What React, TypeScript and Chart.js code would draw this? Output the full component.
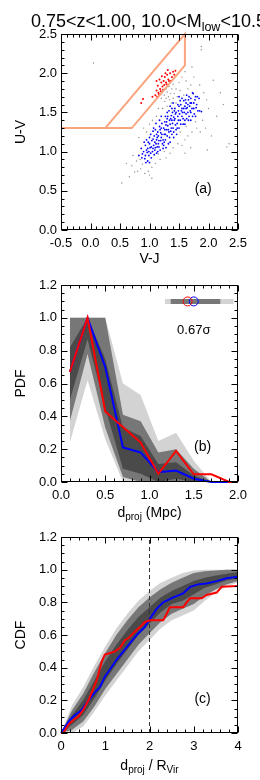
import React, { useEffect, useRef } from 'react';
import { Chart, registerables } from 'chart.js';
Chart.register(...registerables);

const FONT = '"Liberation Sans", Arial, Helvetica, sans-serif';

// ---------- Panel (a): UVJ diagram ----------
const bluePts: number[][] = [
  [0.88,0.97],[0.92,0.91],[0.95,1.02],[0.97,0.88],[0.99,0.95],[1.01,1.05],[0.93,1.08],[1.03,0.92],[0.9,1.0],[1.05,1.0],
  [0.96,0.99],[1.0,0.86],[0.86,1.04],[1.07,1.08],[0.98,1.12],[1.04,1.14],[0.91,1.12],[1.08,0.96],[0.94,0.86],[0.87,0.92],
  [1.1,1.05],[1.12,1.15],[1.15,1.1],[1.08,1.2],[1.18,1.02],[1.2,1.18],[1.14,1.25],[1.22,1.1],[1.25,1.22],[1.1,1.28],
  [1.17,1.32],[1.27,1.15],[1.19,1.24],[1.24,1.3],[1.13,1.18],[1.06,1.26],[1.28,1.05],[1.21,1.36],[1.16,1.06],[1.3,1.2],
  [1.26,1.38],[1.11,1.36],[1.23,1.04],[1.29,1.28],[1.02,1.22],[1.32,1.1],[1.19,1.14],[1.09,1.12],[1.14,1.0],[1.06,1.16],
  [1.33,1.25],[1.35,1.35],[1.38,1.22],[1.4,1.3],[1.36,1.42],[1.42,1.4],[1.31,1.45],[1.45,1.28],[1.44,1.48],[1.39,1.5],
  [1.47,1.36],[1.34,1.18],[1.41,1.18],[1.48,1.45],[1.37,1.3],[1.5,1.3],[1.29,1.38],[1.43,1.55],[1.33,1.52],[1.46,1.22],
  [1.52,1.4],[1.38,1.4],[1.27,1.45],[1.49,1.52],[1.35,1.58],[1.31,1.33],[1.44,1.34],[1.25,1.12],[1.36,1.26],[1.41,1.44],
  [1.55,1.45],[1.58,1.55],[1.6,1.4],[1.53,1.6],[1.62,1.62],[1.65,1.5],[1.57,1.35],[1.68,1.58],[1.7,1.68],[1.63,1.72],
  [1.72,1.55],[1.75,1.62],[1.55,1.68],[1.78,1.7],[1.8,1.6],[1.67,1.45],[1.6,1.58],[1.73,1.75],[1.82,1.52],[1.5,1.58],
  [1.58,1.65],[1.66,1.66],[1.76,1.48],[1.54,1.52],[1.62,1.48],[1.7,1.4],[1.84,1.68],[1.64,1.56],[1.56,1.5],[1.69,1.62],
  [1.85,1.52],[1.78,1.45],[1.4,1.62],[1.5,1.7],[1.2,1.45],[0.82,0.95],[1.0,1.18],[1.12,0.98],[1.88,1.51],[1.74,1.74],
  [0.93,0.95],[0.97,1.04],[1.02,0.98],[1.06,1.04],[1.0,1.1],[0.95,1.15],[1.09,1.02],[1.11,1.1],[1.15,1.2],[1.18,1.28],
  [1.21,1.22],[1.23,1.15],[1.26,1.28],[1.28,1.34],[1.3,1.42],[1.32,1.28],[1.34,1.4],[1.37,1.46],[1.39,1.36],[1.41,1.25],
  [1.43,1.42],[1.45,1.5],[1.47,1.3],[1.49,1.4],[1.51,1.48],[1.53,1.35],[1.55,1.55],[1.57,1.42],[1.59,1.5],[1.61,1.66],
  [1.63,1.42],[1.65,1.6],[1.67,1.7],[1.69,1.52],[1.71,1.62],[1.73,1.45],[1.75,1.55],[1.77,1.66],[1.79,1.56],[1.81,1.7],
  [1.12,1.22],[1.16,1.14],[1.24,1.08],[1.07,1.3],[1.03,1.06],[0.99,1.0],[1.13,1.06],[1.27,1.22],[1.35,1.12],[1.48,1.6],
  [1.52,1.65],[1.42,1.52],[1.38,1.55],[1.62,1.55],[1.7,1.5],[1.2,1.3],[1.17,1.4],[1.3,1.5],[1.6,1.35],[1.66,1.4],
];
const greyPts: number[][] = [
  [1.25,1.72],[1.28,1.8],[1.33,1.83],[1.38,1.8],[1.42,1.74],[1.4,1.68],[1.34,1.66],[1.28,1.68],[1.3,1.76],[1.36,1.74],
  [1.45,1.8],[1.22,1.78],[1.26,1.64],[1.4,1.86],[1.47,1.7],[1.32,1.7],[1.37,1.62],[1.2,1.68],
  [1.5,1.88],[1.55,1.95],[1.6,2.02],[1.62,1.9],[1.52,1.78],[1.7,1.85],[1.72,2.08],[1.88,2.3],[1.65,1.8],[1.75,1.95],
  [1.58,1.72],[1.85,1.85],[1.97,1.66],[2.08,1.91],[2.14,1.45],[1.92,1.75],[2.0,1.55],[1.9,1.4],[1.95,1.3],[2.05,1.2],
  [2.31,1.06],[1.86,1.25],[1.8,1.3],[1.72,1.25],[1.65,1.2],[1.6,1.15],[1.55,1.08],[1.48,1.1],[1.4,1.05],[1.35,0.98],
  [1.28,0.92],[1.18,0.9],[1.1,0.85],[1.04,0.8],[0.98,0.75],[0.92,0.72],[0.85,0.78],[0.8,0.75],[0.75,0.74],[0.7,0.82],
  [0.61,0.85],[0.53,0.6],[0.66,0.68],[1.04,0.66],[0.88,0.84],[0.78,0.88],[0.84,0.9],[1.12,1.45],[1.05,1.4],[1.0,1.35],
  [0.95,1.25],[1.15,1.55],[1.22,1.55],[1.3,1.58],[1.45,1.62],[0.05,2.13],[1.88,2.34],[2.2,1.75],[2.25,1.6],[1.98,1.02],
  [1.7,1.05],[0.9,1.3],[1.52,1.25],[1.62,1.32],[1.78,1.38],[1.25,1.0],[1.15,0.97],[0.72,0.95],[1.0,0.7],[2.35,1.1],
  [0.82,1.18],[1.6,0.98],
];
const redPts: number[][] = [
  [1.1,1.72],[1.12,1.78],[1.15,1.75],[1.14,1.84],[1.18,1.8],[1.2,1.88],[1.17,1.92],[1.22,1.83],[1.24,1.9],[1.26,1.95],
  [1.23,1.79],[1.28,1.88],[1.3,1.98],[1.27,2.0],[1.32,1.92],[1.35,2.0],[1.33,1.9],[1.38,1.95],[1.4,2.02],[1.42,1.98],
  [1.19,1.77],[1.16,1.73],[1.13,1.7],[1.21,1.96],[1.25,1.85],[1.36,1.9],[1.29,1.86],[1.44,2.03],[0.86,1.62],[0.89,1.67],
  [1.12,1.9],[1.31,2.04],[1.05,1.7],
];
const boxVJ = [-0.5, 0.7, 1.6, 1.6, 0.25];
const boxUV = [1.3, 1.3, 2.1, 2.5, 1.3];

// ---------- Panel (b): PDF ----------
const pdfX = [0.1, 0.3, 0.5, 0.7, 0.9, 1.1, 1.3, 1.5, 1.7, 1.9, 2.0];
const pdfBlue = [0.67, 1.0, 0.70, 0.21, 0.18, 0.06, 0.07, 0.02, 0.0, 0.0, 0.0];
const pdfRed = [0.67, 1.0, 0.43, 0.335, 0.24, 0.05, 0.19, 0.047, 0.047, 0.0, 0.0];
const pdfBandX = [0.1, 0.3, 0.5, 0.7, 0.9, 1.1, 1.3, 1.5, 1.7, 1.9];
const pdfLightLo = [0.24, 0.62, 0.26, 0.0, 0.0, 0.0, 0.0, 0.0, 0.0, 0.0];
const pdfLightHi = [1.0, 1.0, 1.0, 0.60, 0.53, 0.25, 0.30, 0.13, 0.0, 0.0];
const pdfMedLo = [0.37, 0.78, 0.33, 0.03, 0.0, 0.0, 0.0, 0.0, 0.0, 0.0];
const pdfMedHi = [1.0, 1.0, 1.0, 0.41, 0.37, 0.18, 0.20, 0.08, 0.0, 0.0];
const pdfDarkLo = [0.50, 0.87, 0.45, 0.08, 0.05, 0.0, 0.02, 0.0, 0.0, 0.0];
const pdfDarkHi = [0.82, 1.0, 0.75, 0.33, 0.28, 0.11, 0.12, 0.04, 0.0, 0.0];
const insetLight = [1.175, 1.95];
const insetDark = [1.24, 1.80];
const insetY = 1.1;
const obsMark = 1.43;
const simMark = 1.50;
const sigmaText = '0.67σ';

// ---------- Panel (c): CDF ----------
const cdfBlueX = [0, 0.1, 0.2, 0.32, 0.47, 0.62, 0.77, 0.88, 0.99, 1.11, 1.26, 1.41, 1.56, 1.71, 1.9, 2.01, 2.16, 2.31, 2.54, 2.76, 2.92, 3.1, 3.29, 3.52, 3.74, 4.0];
const cdfBlueY = [0, 0.04, 0.08, 0.11, 0.14, 0.20, 0.25, 0.28, 0.345, 0.39, 0.45, 0.50, 0.55, 0.60, 0.65, 0.70, 0.76, 0.80, 0.83, 0.855, 0.895, 0.91, 0.915, 0.93, 0.947, 0.957];
const cdfRedX = [0, 0.05, 0.165, 0.28, 0.39, 0.5, 0.62, 0.73, 0.81, 0.92, 0.99, 1.11, 1.22, 1.33, 1.45, 1.52, 1.63, 1.71, 1.79, 1.9, 2.01, 2.09, 2.31, 2.39, 2.46, 2.76, 2.84, 2.92, 3.18, 3.29, 3.52, 3.63, 4.0];
const cdfRedY = [0, 0, 0.05, 0.08, 0.10, 0.14, 0.20, 0.27, 0.325, 0.437, 0.48, 0.49, 0.50, 0.52, 0.57, 0.58, 0.61, 0.63, 0.65, 0.68, 0.69, 0.69, 0.69, 0.73, 0.77, 0.77, 0.80, 0.825, 0.825, 0.845, 0.86, 0.895, 0.9];
const cdfBandX = [0, 0.25, 0.5, 0.75, 1, 1.25, 1.5, 1.75, 2, 2.25, 2.5, 2.75, 3, 3.25, 3.5, 3.75, 4];
const cdfLightHi = [0, 0.17, 0.28, 0.41, 0.53, 0.64, 0.73, 0.81, 0.87, 0.92, 0.95, 0.98, 0.995, 1.0, 1.0, 1.0, 1.0];
const cdfLightLo = [0, 0.0, 0.04, 0.13, 0.23, 0.32, 0.41, 0.50, 0.57, 0.64, 0.69, 0.72, 0.75, 0.81, 0.86, 0.90, 0.92];
const cdfMedHi = [0, 0.14, 0.24, 0.37, 0.49, 0.60, 0.69, 0.77, 0.83, 0.88, 0.92, 0.95, 0.98, 0.99, 0.995, 1.0, 1.0];
const cdfMedLo = [0, 0.02, 0.07, 0.16, 0.27, 0.36, 0.45, 0.54, 0.61, 0.68, 0.73, 0.76, 0.79, 0.84, 0.88, 0.91, 0.93];
const cdfDarkHi = [0, 0.11, 0.20, 0.32, 0.44, 0.54, 0.63, 0.71, 0.77, 0.83, 0.87, 0.90, 0.93, 0.95, 0.965, 0.975, 0.985];
const cdfDarkLo = [0, 0.05, 0.11, 0.21, 0.32, 0.42, 0.51, 0.60, 0.67, 0.74, 0.79, 0.81, 0.85, 0.89, 0.91, 0.935, 0.945];
const rvirLine = 2;

// ---------- helpers ----------
const LIGHT = '#d3d3d3';
const MED = '#777777';
const DARK = '#4a4a4a';
const NONE = 'rgba(0,0,0,0)';

const pts = (xs: number[], ys: number[]) => xs.map((x, i) => ({ x, y: ys[i] }));
const pairs = (p: number[][]) => p.map(([x, y]) => ({ x, y }));

function lineDs(data: any[], color: string, width: number, order: number, extra: any = {}) {
  return { data, showLine: true, borderColor: color, borderWidth: width, pointRadius: 0, fill: false, order, clip: false, tension: 0, ...extra };
}
function bandDs(xs: number[], lo: number[], hi: number[], color: string, order: number) {
  return [
    { data: pts(xs, lo), showLine: true, borderColor: NONE, borderWidth: 1, pointRadius: 0, fill: false, order },
    { data: pts(xs, hi), showLine: true, borderColor: NONE, borderWidth: 1, pointRadius: 0, fill: '-1', backgroundColor: color, order },
  ];
}

type Part = { t: string; s: number; dy?: number };
function drawParts(ctx: CanvasRenderingContext2D, parts: Part[], x: number, y: number, align: 'left' | 'center') {
  ctx.textBaseline = 'alphabetic';
  ctx.textAlign = 'left';
  let w = 0;
  parts.forEach((p) => { ctx.font = `${p.s}px ${FONT}`; w += ctx.measureText(p.t).width; });
  let cx = align === 'center' ? x - w / 2 : x;
  parts.forEach((p) => {
    ctx.font = `${p.s}px ${FONT}`;
    ctx.fillText(p.t, cx, y + (p.dy || 0));
    cx += ctx.measureText(p.t).width;
  });
}

const decorPlugin = {
  id: 'decor',
  afterDatasetsDraw(chart: any, _a: any, opts: any) {
    const { ctx, chartArea: a, scales } = chart;
    const xs = scales.x, ys = scales.y;
    ctx.save();
    ctx.fillStyle = '#000';
    ctx.strokeStyle = '#000';
    ctx.lineWidth = 1;
    const L = Math.round(a.left) + 0.5, R = Math.round(a.right) - 0.5, T = Math.round(a.top) + 0.5, B = Math.round(a.bottom) - 0.5;
    ctx.strokeRect(L, T, R - L, B - T);
    const drawTicks = (scale: any, step: number, minor: number, horiz: boolean) => {
      const n = Math.round((scale.max - scale.min) / (step / minor));
      for (let i = 0; i <= n; i++) {
        const v = scale.min + (i * step) / minor;
        const len = i % minor === 0 ? 6 : 3;
        const p = Math.round(scale.getPixelForValue(v)) + 0.5;
        ctx.beginPath();
        if (horiz) {
          ctx.moveTo(p, B); ctx.lineTo(p, B - len);
          ctx.moveTo(p, T); ctx.lineTo(p, T + len);
        } else {
          ctx.moveTo(L, p); ctx.lineTo(L + len, p);
          ctx.moveTo(R, p); ctx.lineTo(R - len, p);
        }
        ctx.stroke();
      }
    };
    drawTicks(xs, opts.xStep, opts.xMinor, true);
    drawTicks(ys, opts.yStep, opts.yMinor, false);
    drawParts(ctx, opts.xTitle, (a.left + a.right) / 2, opts.xTitleY, 'center');
    ctx.save();
    ctx.translate(opts.yTitleX, (a.top + a.bottom) / 2);
    ctx.rotate(-Math.PI / 2);
    drawParts(ctx, opts.yTitle, 0, 0, 'center');
    ctx.restore();
    (opts.texts || []).forEach((t: any) => {
      ctx.font = `${t.s}px ${FONT}`;
      ctx.textAlign = 'center';
      ctx.textBaseline = 'middle';
      ctx.fillText(t.text, xs.getPixelForValue(t.x), ys.getPixelForValue(t.y));
    });
    if (opts.title) drawParts(ctx, opts.title, opts.titleX, opts.titleY, 'left');
    ctx.restore();
  },
};

function scaleCfg(min: number, max: number, step: number, dec: number, isX: boolean) {
  return {
    type: 'linear',
    min, max,
    grid: { display: false, drawTicks: false },
    border: { display: false },
    ticks: {
      stepSize: step,
      autoSkip: false,
      maxRotation: 0,
      color: '#000',
      font: { size: 13, family: FONT },
      padding: isX ? 6 : 4,
      callback: (v: any) => Number(v).toFixed(dec),
    },
    afterFit: (s: any) => { if (isX) s.height = 30; else s.width = 61; },
  };
}

function baseOptions(top: number, bottom: number, xs: any, ys: any, decor: any) {
  return {
    responsive: false,
    animation: false,
    devicePixelRatio: 1,
    events: [],
    layout: { padding: { top, right: 22, bottom: 780 - bottom - 30, left: 0 } },
    scales: { x: xs, y: ys },
    plugins: { legend: { display: false }, tooltip: { enabled: false }, decor },
  };
}

function configA(): any {
  return {
    type: 'scatter',
    data: {
      datasets: [
        lineDs(pts(boxVJ, boxUV), '#f9a57f', 2, 0),
        { data: pairs(redPts), pointRadius: 1, pointBorderWidth: 0, pointBackgroundColor: '#ff0000', order: 1 },
        { data: pairs(bluePts), pointRadius: 0.9, pointBorderWidth: 0, pointBackgroundColor: '#0000ff', order: 2 },
        { data: pairs(greyPts), pointRadius: 0.7, pointBorderWidth: 0, pointBackgroundColor: '#8c8c8c', order: 3 },
      ],
    },
    options: baseOptions(34, 230, scaleCfg(-0.5, 2.5, 0.5, 1, true), scaleCfg(0, 2.5, 0.5, 1, false), {
      xStep: 0.5, xMinor: 5, yStep: 0.5, yMinor: 5,
      xTitle: [{ t: 'V-J', s: 14 }], xTitleY: 263,
      yTitle: [{ t: 'U-V', s: 14 }], yTitleX: 25,
      texts: [{ text: '(a)', x: 1.91, y: 0.52, s: 14 }],
      title: [{ t: '0.75<z<1.00, 10.0<M', s: 18 }, { t: 'low', s: 12.5, dy: 4 }, { t: '<10.5', s: 18 }],
      titleX: 31, titleY: 27,
    }),
    plugins: [decorPlugin],
  };
}

function configB(): any {
  return {
    type: 'scatter',
    data: {
      datasets: [
        ...bandDs(pdfBandX, pdfLightLo, pdfLightHi, LIGHT, 10),
        ...bandDs(pdfBandX, pdfMedLo, pdfMedHi, MED, 9),
        ...bandDs(pdfBandX, pdfDarkLo, pdfDarkHi, DARK, 8),
        lineDs(pts(pdfX, pdfBlue), '#0000ff', 2, 2),
        lineDs(pts(pdfX, pdfRed), '#ff0000', 2, 1),
        lineDs(pts(insetLight, [insetY, insetY]), LIGHT, 5, 5, { borderCapStyle: 'butt' }),
        lineDs(pts(insetDark, [insetY, insetY]), MED, 5, 4, { borderCapStyle: 'butt' }),
        { data: [{ x: obsMark, y: insetY }], pointRadius: 4.5, pointBorderWidth: 1, pointBorderColor: '#ff0000', pointBackgroundColor: NONE, order: 0 },
        { data: [{ x: simMark, y: insetY }], pointRadius: 4.5, pointBorderWidth: 1, pointBorderColor: '#0000ff', pointBackgroundColor: NONE, order: 0 },
      ],
    },
    options: baseOptions(285, 482, scaleCfg(0, 2.0, 0.5, 1, true), scaleCfg(0, 1.2, 0.2, 1, false), {
      xStep: 0.5, xMinor: 5, yStep: 0.2, yMinor: 4,
      xTitle: [{ t: 'd', s: 14 }, { t: 'proj', s: 10, dy: 3 }, { t: ' (Mpc)', s: 14 }], xTitleY: 517,
      yTitle: [{ t: 'PDF', s: 14 }], yTitleX: 25,
      texts: [{ text: '(b)', x: 1.6, y: 0.21, s: 14 }, { text: sigmaText, x: 1.5, y: 0.925, s: 13 }],
    }),
    plugins: [decorPlugin],
  };
}

function configC(): any {
  return {
    type: 'scatter',
    data: {
      datasets: [
        ...bandDs(cdfBandX, cdfLightLo, cdfLightHi, LIGHT, 10),
        ...bandDs(cdfBandX, cdfMedLo, cdfMedHi, MED, 9),
        ...bandDs(cdfBandX, cdfDarkLo, cdfDarkHi, DARK, 8),
        lineDs(pts([rvirLine, rvirLine], [0, 1.2]), '#333333', 1, 3, { borderDash: [4, 3] }),
        lineDs(pts(cdfBlueX, cdfBlueY), '#0000ff', 2, 2),
        lineDs(pts(cdfRedX, cdfRedY), '#ff0000', 2, 1),
      ],
    },
    options: baseOptions(537, 733, scaleCfg(0, 4, 1, 0, true), scaleCfg(0, 1.2, 0.2, 1, false), {
      xStep: 1, xMinor: 5, yStep: 0.2, yMinor: 4,
      xTitle: [{ t: 'd', s: 14 }, { t: 'proj', s: 10, dy: 3 }, { t: ' / R', s: 14 }, { t: 'Vir', s: 10, dy: 3 }], xTitleY: 770,
      yTitle: [{ t: 'CDF', s: 14 }], yTitleX: 25,
      texts: [{ text: '(c)', x: 3.2, y: 0.21, s: 14 }],
    }),
    plugins: [decorPlugin],
  };
}

function Panel({ make }: { make: () => any }) {
  const ref = useRef<HTMLCanvasElement>(null);
  useEffect(() => {
    if (!ref.current) return;
    const c = new Chart(ref.current, make());
    return () => c.destroy();
  }, [make]);
  return <canvas ref={ref} width={260} height={780} style={{ position: 'absolute', left: 0, top: 0, width: 260, height: 780 }} />;
}

export default function App() {
  return (
    <div style={{ position: 'absolute', left: 0, top: 0, width: 260, height: 780, background: '#fff', overflow: 'hidden' }}>
      <Panel make={configA} />
      <Panel make={configB} />
      <Panel make={configC} />
    </div>
  );
}
